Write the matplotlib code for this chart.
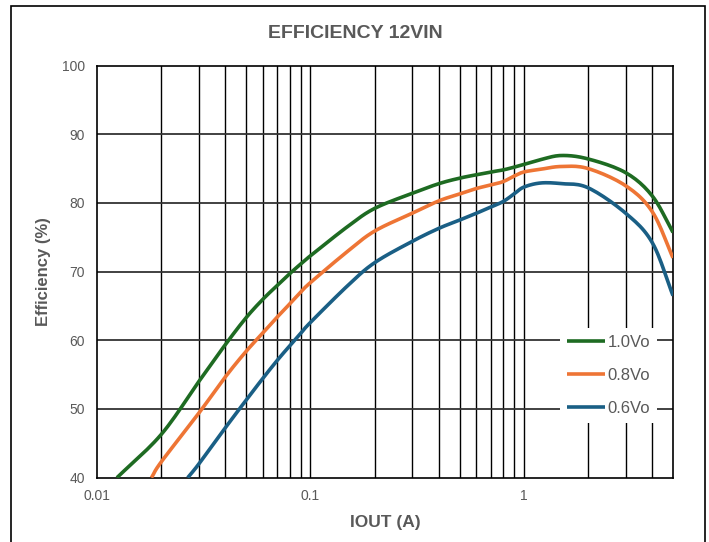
import numpy as np
import matplotlib
matplotlib.use("Agg")
import matplotlib.pyplot as plt
from matplotlib.patches import Rectangle

# Output current (A) and efficiency (%) for each output voltage
iout_10 = [0.0124, 0.02, 0.03, 0.04, 0.05, 0.06, 0.07, 0.08, 0.09, 0.1, 0.15, 0.2, 0.3,
           0.4, 0.5, 0.6, 0.7, 0.8, 0.9, 1.0, 1.2, 1.5, 2.0, 3.0, 4.0, 5.0]
eff_10 = [40.0, 46.3, 54.0, 59.4, 63.3, 66.0, 68.0, 69.7, 71.1, 72.3, 76.6, 79.2, 81.4,
          82.8, 83.6, 84.1, 84.5, 84.8, 85.2, 85.6, 86.3, 86.9, 86.4, 84.4, 81.0, 75.7]

iout_08 = [0.0180, 0.02, 0.03, 0.04, 0.05, 0.06, 0.07, 0.08, 0.09, 0.1, 0.15, 0.2, 0.3,
           0.4, 0.5, 0.6, 0.7, 0.8, 0.9, 1.0, 1.2, 1.5, 2.0, 3.0, 4.0, 5.0]
eff_08 = [40.0, 42.3, 49.4, 54.7, 58.4, 61.1, 63.4, 65.3, 67.0, 68.4, 73.0, 75.9, 78.5,
          80.3, 81.3, 82.1, 82.6, 83.1, 83.9, 84.5, 84.9, 85.3, 85.0, 82.5, 78.7, 72.0]

iout_06 = [0.0266, 0.03, 0.04, 0.05, 0.06, 0.07, 0.08, 0.09, 0.1, 0.15, 0.2, 0.3,
           0.4, 0.5, 0.6, 0.7, 0.8, 0.9, 1.0, 1.2, 1.5, 2.0, 3.0, 4.0, 5.0]
eff_06 = [40.0, 42.0, 47.3, 51.3, 54.5, 57.1, 59.2, 61.0, 62.6, 68.0, 71.3, 74.4,
          76.3, 77.5, 78.5, 79.4, 80.2, 81.3, 82.3, 82.9, 82.8, 82.2, 78.5, 74.2, 66.5]

series_labels = ["1.0Vo", "0.8Vo", "0.6Vo"]
series_colors = ["#1e6b22", "#ee7535", "#1a5f85"]

x_ticks = [0.01, 0.1, 1]
x_tick_labels = ["0.01", "0.1", "1"]
y_ticks = [40, 50, 60, 70, 80, 90, 100]

GRAY = "#595959"
FONT = "Liberation Sans"


def smooth_log(x, y, n=12):
    """Catmull-Rom smoothing in log-x space."""
    lx = np.log10(np.asarray(x, float))
    yy = np.asarray(y, float)
    P = np.column_stack([lx, yy])
    P = np.vstack([P[0] * 2 - P[1], P, P[-1] * 2 - P[-2]])
    out = []
    t = np.linspace(0, 1, n, endpoint=False)[:, None]
    for i in range(1, len(P) - 2):
        p0, p1, p2, p3 = P[i - 1], P[i], P[i + 1], P[i + 2]
        seg = 0.5 * ((2 * p1) + (-p0 + p2) * t + (2 * p0 - 5 * p1 + 4 * p2 - p3) * t ** 2
                     + (-p0 + 3 * p1 - 3 * p2 + p3) * t ** 3)
        out.append(seg)
    out.append(P[-2][None, :])
    out = np.vstack(out)
    return 10 ** out[:, 0], out[:, 1]


fig = plt.figure(figsize=(7.09, 5.42), dpi=100)
ax = fig.add_axes([97 / 709, 1 - 477.7 / 542, (673 - 97) / 709, (477.7 - 65.5) / 542])

ax.set_xscale("log")
ax.set_xlim(0.01, 5)
ax.set_ylim(40, 100)

# Grid: every minor decade step and every 10 %
minor = [m * d for d in (0.01, 0.1, 1) for m in range(2, 10) if m * d < 5]
for xv in minor + [0.1, 1]:
    ax.axvline(xv, color="black", lw=1.0, zorder=1)
for yv in y_ticks[1:-1]:
    ax.axhline(yv, color="#333333", lw=1.3, zorder=1)

for (xs, ys), lab, col in zip([(iout_10, eff_10), (iout_08, eff_08), (iout_06, eff_06)],
                              series_labels, series_colors):
    sx, sy = smooth_log(xs, ys)
    ax.plot(sx, sy, color=col, lw=2.6, label=lab, zorder=3, solid_capstyle="butt")

for sp in ax.spines.values():
    sp.set_color("black")
    sp.set_linewidth(1.2)

ax.set_xticks(x_ticks)
ax.set_xticklabels(x_tick_labels)
ax.xaxis.set_minor_locator(matplotlib.ticker.NullLocator())
ax.set_yticks(y_ticks)
ax.tick_params(axis="both", length=0, colors=GRAY, labelsize=10)
ax.tick_params(axis="x", pad=8)
ax.tick_params(axis="y", pad=8.5)
for lbl in ax.get_xticklabels() + ax.get_yticklabels():
    lbl.set_family(FONT)

ax.set_xlabel("IOUT (A)", fontsize=12.5, fontweight="bold", color=GRAY, family=FONT, labelpad=9)
ax.set_ylabel("Efficiency (%)", fontsize=12, fontweight="bold", color=GRAY,
              family=FONT, labelpad=8)

fig.text(355.5 / 709, 1 - 33 / 542, "EFFICIENCY 12VIN", ha="center", va="center",
         fontsize=14, fontweight="bold", color=GRAY, family=FONT)

leg = ax.legend(loc="upper right", bbox_to_anchor=(1 - 8 / 576, 1 - 254 / 412),
                frameon=True, fancybox=False, framealpha=1, edgecolor="none",
                handlelength=2.3, handletextpad=0.15, labelspacing=1.1, borderpad=0.4,
                prop={"family": FONT, "size": 12})
for t in leg.get_texts():
    t.set_color(GRAY)
leg.set_zorder(5)

fig.patches.append(Rectangle((11 / 709, -0.05), (705 - 11) / 709, 1.05 - 6 / 542,
                             transform=fig.transFigure, fill=False, edgecolor="black",
                             lw=1.2))

fig.savefig("out.png", dpi=100)
